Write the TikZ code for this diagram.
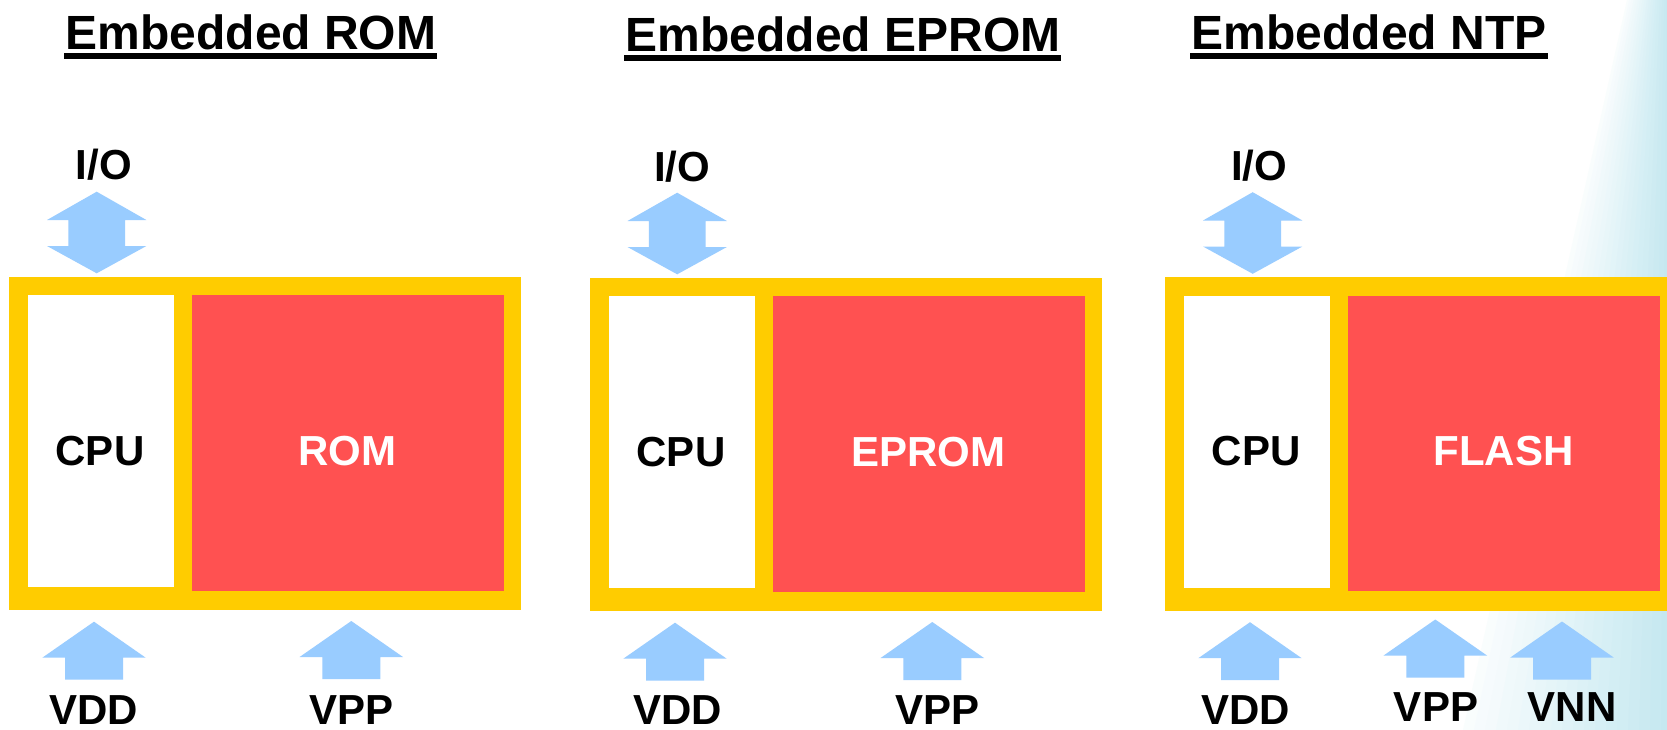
\documentclass[tikz,border=0pt]{standalone}
\usepackage{fontspec}
\setmainfont{Liberation Sans}
\usetikzlibrary{calc}
\definecolor{frameyellow}{RGB}{255,204,0}
\definecolor{memred}{RGB}{255,81,81}
\definecolor{arrowblue}{RGB}{153,204,255}
\definecolor{bgcyan}{RGB}{197,232,240}
\tikzset{
  yframe/.style={fill=frameyellow, draw=none, minimum width=512pt, minimum height=333.3pt, inner sep=0pt, outer sep=0pt},
  cpubox/.style={fill=white, draw=none, minimum width=146pt, minimum height=292pt, inner sep=0pt, outer sep=0pt},
  membox/.style={fill=memred, draw=none, minimum width=311.6pt, minimum height=295.7pt, inner sep=0pt, outer sep=0pt},
  lbl/.style={inner sep=0pt, outer sep=0pt, font=\fontsize{42}{50}\selectfont\bfseries},
  ttl/.style={inner sep=0pt, outer sep=0pt, font=\fontsize{48}{58}\selectfont\bfseries, anchor=base},
  blk/.style={fill=arrowblue, draw=none}
}
\newcommand{\mypanel}[4]{%
  \begin{scope}[shift={(#2,#3)}]
    \node[yframe] (#1frame) at (265,443.35) {};
    \node[cpubox] (#1cpu) at (101,441) {};
    \node[membox] (#1mem) at (347.8,442.85) {};
    \node[lbl, anchor=base] (#1cpulbl) at (100,465) {CPU};
    \node[lbl, anchor=base, text=white] (#1memlbl) at (347.5,465) {#4};
  \end{scope}}
\newcommand{\myup}[1]{%
  \fill[blk, shift={(#1)}] (0,0) -- (51.7,36) -- (29,36) -- (29,58) -- (-29,58) -- (-29,36) -- (-51.7,36) -- cycle;}
\newcommand{\mydbl}[1]{%
  \fill[blk, shift={(#1)}] (0,0) -- (49.7,28.3) -- (28.3,28.3) -- (28.3,54.3) -- (49.7,54.3) -- (0,81.6)
    -- (-49.7,54.3) -- (-28.3,54.3) -- (-28.3,28.3) -- (-49.7,28.3) -- cycle;}
\begin{document}
\begin{tikzpicture}[x=1pt,y=-1pt]
\useasboundingbox (0,0) rectangle (1667,730);
\clip (0,0) rectangle (1667,730);
\fill[white] (0,0) rectangle (1667,730);
% background gradient on the right
\foreach \i in {0,...,18} {
  \pgfmathsetmacro\pc{10+\i*5}
  \fill[bgcyan!\pc!white] (1627+\i*2.2,0) -- (1800,0) -- (1800,730) -- (1463+\i*11,730) -- cycle;
}
% titles
\node[ttl] (t1) at (251,49.3) {Embedded ROM};
\fill ($(t1.base west)+(-1.7,3.5)$) rectangle ($(t1.base east)+(1,9.5)$);
\node[ttl] (t2) at (843,51.7) {Embedded EPROM};
\fill ($(t2.base west)+(-1.7,3.3)$) rectangle ($(t2.base east)+(1,9.3)$);
\node[ttl] (t3) at (1369.2,49.5) {Embedded NTP};
\fill ($(t3.base west)+(-2,3.5)$) rectangle ($(t3.base east)+(1,9.5)$);
% panels
\mypanel{p1}{0}{0}{ROM}
\mypanel{p2}{581}{1.3}{EPROM}
\mypanel{p3}{1156}{0.5}{FLASH}
% I/O
\node[lbl, anchor=base] (p1iolbl) at (103.8,180) {I/O};
\node[lbl, anchor=base] (p2iolbl) at (682,181.7) {I/O};
\node[lbl, anchor=base] (p3iolbl) at (1259,180.7) {I/O};
\coordinate (p1io) at (96.7,191.7);
\coordinate (p2io) at (677.2,192.7);
\coordinate (p3io) at (1252.7,192.2);
\mydbl{p1io}
\mydbl{p2io}
\mydbl{p3io}
% supply arrows
\coordinate (p1vdd) at (94,621.7);
\coordinate (p1vpp) at (351.3,621);
\coordinate (p2vdd) at (675,622.7);
\coordinate (p2vpp) at (932.3,622);
\coordinate (p3vdd) at (1250,622.2);
\coordinate (p3vpp) at (1435.3,619.5);
\coordinate (p3vnn) at (1562,621.5);
\myup{p1vdd}
\myup{p1vpp}
\myup{p2vdd}
\myup{p2vpp}
\myup{p3vdd}
\myup{p3vpp}
\myup{p3vnn}
\node[lbl, anchor=base] (p1vddlbl) at (93.8,724.3) {VDD};
\node[lbl, anchor=base] (p1vpplbl) at (351.8,724) {VPP};
\node[lbl, anchor=base] (p2vddlbl) at (677.8,724.3) {VDD};
\node[lbl, anchor=base] (p2vpplbl) at (937.5,724) {VPP};
\node[lbl, anchor=base] (p3vddlbl) at (1245.5,724.3) {VDD};
\node[lbl, anchor=base] (p3vpplbl) at (1436,721) {VPP};
\node[lbl, anchor=base] (p3vnnlbl) at (1572.3,721) {VNN};
\end{tikzpicture}
\end{document}
